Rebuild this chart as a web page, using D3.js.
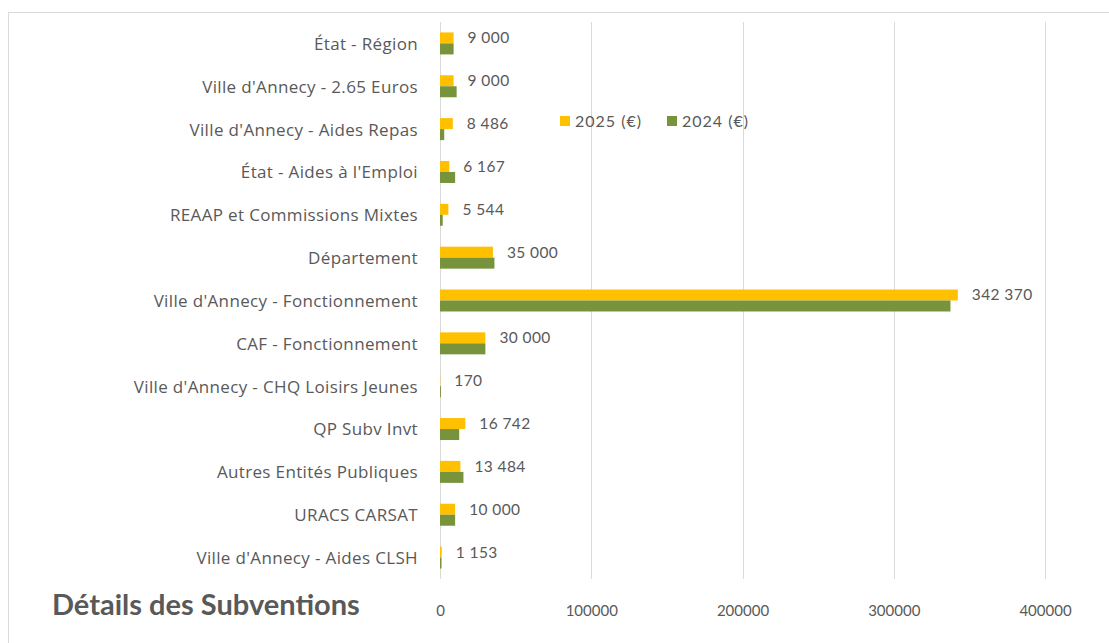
<!DOCTYPE html>
<html>
<head>
<meta charset="utf-8">
<script src="https://cdn.jsdelivr.net/npm/d3@7"></script>
<style>
html,body{margin:0;padding:0;background:#fff;}
svg{display:block;}
text{font-family:Lato,"Open Sans",sans-serif;fill:#595959;}
</style>
</head>
<body>
<svg id="chart" width="1109" height="643"></svg>
<script>
const categories = [
  "État - Région",
  "Ville d'Annecy - 2.65  Euros",
  "Ville d'Annecy - Aides Repas",
  "État - Aides à l'Emploi",
  "REAAP et Commissions Mixtes",
  "Département",
  "Ville d'Annecy - Fonctionnement",
  "CAF - Fonctionnement",
  "Ville d'Annecy - CHQ Loisirs  Jeunes",
  "QP Subv Invt",
  "Autres Entités Publiques",
  "URACS CARSAT",
  "Ville d'Annecy - Aides CLSH"
];
const values2025 = [9000, 9000, 8486, 6167, 5544, 35000, 342370, 30000, 170, 16742, 13484, 10000, 1153];
const values2024 = [9000, 11000, 2800, 10000, 1800, 36000, 337500, 30000, 600, 12700, 15500, 10000, 1000];
const seriesNames = ["2025 (€)", "2024 (€)"];
const tickValues = [0, 100000, 200000, 300000, 400000];
const title = "Détails des Subventions";

const colors = {"2025 (€)": "#FFC000", "2024 (€)": "#77933C"};

const svg = d3.select("#chart");

// outer chart border
svg.append("rect")
  .attr("x", 8.5).attr("y", 12.5)
  .attr("width", 1120).attr("height", 640)
  .attr("fill", "none").attr("stroke", "#d9d9d9").attr("stroke-width", 1);

const x = d3.scaleLinear().domain([0, 400000]).range([440, 1045]);
const y = d3.scaleBand().domain(categories).range([22, 579]).paddingInner(0.487).paddingOuter(0.2435);
const sub = d3.scaleBand().domain(seriesNames).range([0, y.bandwidth()]);

// gridlines
svg.append("g").selectAll("line").data(tickValues).join("line")
  .attr("x1", d => Math.round(x(d)) + 0.5).attr("x2", d => Math.round(x(d)) + 0.5)
  .attr("y1", 22).attr("y2", 579)
  .attr("stroke", "#d9d9d9").attr("stroke-width", 1);

// x-axis labels
const xAxis = d3.axisBottom(x).tickValues(tickValues).tickSize(0).tickFormat(d3.format("d"));
const gx = svg.append("g").attr("transform", "translate(0,602)").call(xAxis);
gx.select(".domain").remove();
gx.selectAll("text").attr("font-size", "15px").attr("fill", "#595959")
  .style("font-family", "Lato, sans-serif").attr("dy", "0.71em");

// category labels
const yAxis = d3.axisLeft(y).tickSize(0).tickPadding(22);
const gy = svg.append("g").attr("transform", "translate(440,1)").call(yAxis);
gy.select(".domain").remove();
gy.selectAll("text").attr("font-size", "17px").attr("fill", "#595959")
  .style("font-family", "'Open Sans', sans-serif").style("letter-spacing", "0.35px");

const rows = categories.map((c, i) => ({cat: c, v: [values2025[i], values2024[i]]}));

const groups = svg.append("g").selectAll("g").data(rows).join("g")
  .attr("transform", d => `translate(0,${y(d.cat)})`);

groups.selectAll("rect").data(d => seriesNames.map((s, j) => ({s, v: d.v[j]}))).join("rect")
  .attr("x", x(0))
  .attr("y", d => sub(d.s))
  .attr("height", sub.bandwidth())
  .attr("width", d => x(d.v) - x(0))
  .attr("fill", d => colors[d.s]);

const fr = d3.formatLocale({decimal: ",", thousands: " ", grouping: [3], currency: ["", " €"]});
const fmt = fr.format(",d");

groups.append("text")
  .attr("x", d => x(d.v[0]) + 14)
  .attr("y", sub(seriesNames[0]) + sub.bandwidth() / 2)
  .attr("dy", "0.35em")
  .attr("font-size", "15.5px")
  .style("letter-spacing", "0.4px")
  .text(d => fmt(d.v[0]));

// legend
const legendX = [560, 667];
const lg = svg.append("g").selectAll("g").data(seriesNames).join("g")
  .attr("transform", (d, i) => `translate(${legendX[i]},116)`);
lg.append("rect").attr("width", 10).attr("height", 10).attr("fill", d => colors[d]);
lg.append("text").attr("x", 15).attr("y", 5).attr("dy", "0.35em")
  .attr("font-size", "16px").style("letter-spacing", "1px").text(d => d);

// title
svg.append("text").attr("x", 52).attr("y", 615)
  .attr("font-size", "29px").attr("font-weight", "bold")
  .style("fill", "#595959")
  .text(title);
</script>
</body>
</html>
